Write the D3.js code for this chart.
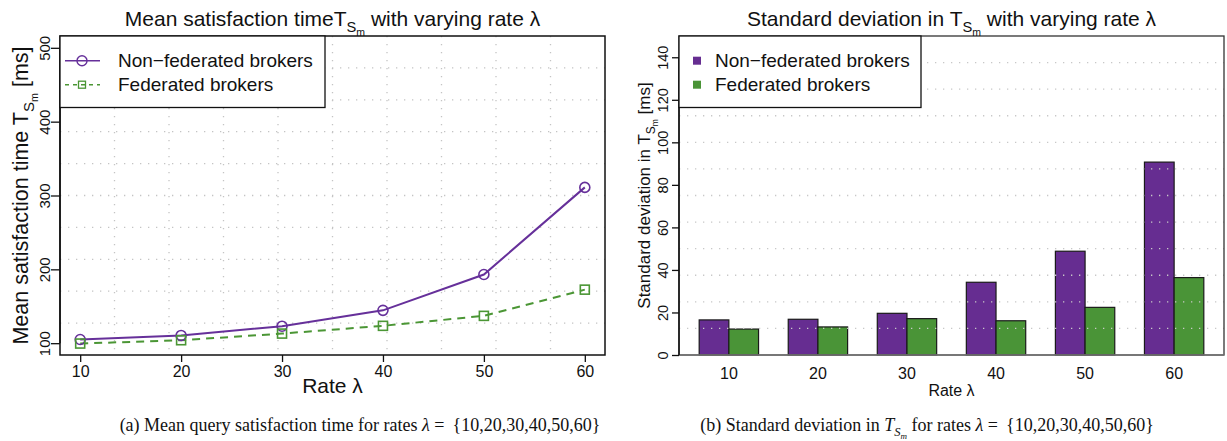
<!DOCTYPE html>
<html><head><meta charset="utf-8">
<script src="https://cdn.jsdelivr.net/npm/d3@7"></script>
<style>
html,body{margin:0;padding:0;background:#fff;}
svg{display:block;}
text{font-family:"Liberation Sans",Arial,Helvetica,sans-serif;fill:#111;}
.cap{font-family:"Liberation Serif","Times New Roman",serif;}
</style></head>
<body>
<svg id="c" width="1227" height="441"></svg>
<script>
// ---------- data ----------
const rates = [10, 20, 30, 40, 50, 60];
const seriesNames = ["Non\u2212federated brokers", "Federated brokers"];
const meanNonFed = [105, 110.5, 123, 144.5, 193, 311];
const meanFed = [99.5, 104, 113, 123.5, 137, 172.5];
const sdNonFed = [16.5, 16.8, 19.6, 34.2, 48.8, 90.7];
const sdFed = [12.2, 13.2, 17.1, 16.1, 22.4, 36.4];
const leftYTicks = [100, 200, 300, 400, 500];
const rightYTicks = [0, 20, 40, 60, 80, 100, 120, 140];
const colors = ["#66309a", "#4b9635"];
const barColors = ["#662d91", "#4a9437"];

const svg = d3.select("#c");
svg.append("rect").attr("width",1227).attr("height",441).attr("fill","#fff");

// helper for T_{S_m}
function tsm(sel, size, italic) {
  const t = sel.append("tspan").text("T");
  if (italic) t.attr("font-style","italic");
  const s = sel.append("tspan").text("S").attr("font-size", size*0.7).attr("dy", size*0.3);
  if (italic) s.attr("font-style","italic");
  const m = sel.append("tspan").text("m").attr("font-size", size*0.5).attr("dy", size*0.16);
  if (italic) m.attr("font-style","italic");
  return size*0.46; // total shift to undo
}

// ================= LEFT CHART =================
const L = {x0:60, x1:605, y0:36, y1:355};
const xL = d3.scaleLinear().domain([8, 62]).range([L.x0, L.x1]);
const yL = d3.scaleLinear().domain([84, 516]).range([L.y1, L.y0]);
const gL = svg.append("g");

// grid (10x10 cells)
const gxL = d3.range(1,10).map(k => 8 + 5.4*k);
const gyL = d3.range(1,10).map(k => 84 + 43.2*k);
gL.selectAll(".gx").data(gxL).join("line")
  .attr("x1", d=>xL(d)).attr("x2", d=>xL(d)).attr("y1", L.y0).attr("y2", L.y1)
  .attr("stroke","#c4c4c4").attr("stroke-width",1.3).attr("stroke-dasharray","1.3,6.7");
gL.selectAll(".gy").data(gyL).join("line")
  .attr("y1", d=>yL(d)).attr("y2", d=>yL(d)).attr("x1", L.x0).attr("x2", L.x1)
  .attr("stroke","#c4c4c4").attr("stroke-width",1.3).attr("stroke-dasharray","1.3,6.7");

// lines
const lineL = d3.line().x((d,i)=>xL(rates[i])).y(d=>yL(d));
gL.append("path").datum(meanNonFed).attr("d", lineL).attr("fill","none")
  .attr("stroke", colors[0]).attr("stroke-width",2);
gL.append("path").datum(meanFed).attr("d", lineL).attr("fill","none")
  .attr("stroke", colors[1]).attr("stroke-width",2).attr("stroke-dasharray","8,6");
gL.selectAll(".pc").data(meanNonFed).join("circle")
  .attr("cx",(d,i)=>xL(rates[i])).attr("cy", d=>yL(d)).attr("r",5)
  .attr("fill","none").attr("stroke",colors[0]).attr("stroke-width",1.6);
gL.selectAll(".ps").data(meanFed).join("rect")
  .attr("x",(d,i)=>xL(rates[i])-4.5).attr("y", d=>yL(d)-4.5).attr("width",9).attr("height",9)
  .attr("fill","none").attr("stroke",colors[1]).attr("stroke-width",1.6);

// box
gL.append("rect").attr("x",L.x0).attr("y",L.y0).attr("width",L.x1-L.x0).attr("height",L.y1-L.y0)
  .attr("fill","none").attr("stroke","#111").attr("stroke-width",1.5);

// axes
const axL = gL.append("g").attr("transform",`translate(${L.x0},0)`)
  .call(d3.axisLeft(yL).tickValues(leftYTicks).tickSize(9).tickPadding(0));
axL.select(".domain").attr("d", `M0,${yL(100)}V${yL(500)}`).attr("stroke","#111").attr("stroke-width",1.5);
axL.selectAll(".tick line").attr("stroke","#111").attr("stroke-width",1.3);
axL.selectAll(".tick text").attr("x",0).attr("dy",0).attr("y",0)
  .attr("transform","translate(-10.5,0) rotate(-90)").attr("text-anchor","middle")
  .attr("font-size",15).attr("font-family","Liberation Sans, Arial, sans-serif").attr("fill","#111");

const axLb = gL.append("g").attr("transform",`translate(0,${L.y1})`)
  .call(d3.axisBottom(xL).tickValues(rates).tickSize(7).tickPadding(4));
axLb.select(".domain").remove();
axLb.selectAll(".tick line").attr("stroke","#111").attr("stroke-width",1.3);
axLb.selectAll(".tick text").attr("font-size",16).attr("font-family","Liberation Sans, Arial, sans-serif").attr("fill","#111");

// legend
gL.append("rect").attr("x",L.x0).attr("y",L.y0).attr("width",265).attr("height",71.5)
  .attr("fill","#fff").attr("stroke","#111").attr("stroke-width",1.3);
const legY = [60.7, 84.7];
gL.append("line").attr("x1",65).attr("x2",100).attr("y1",legY[0]).attr("y2",legY[0]).attr("stroke",colors[0]).attr("stroke-width",1.5);
gL.append("circle").attr("cx",82).attr("cy",legY[0]).attr("r",5).attr("fill","none").attr("stroke",colors[0]).attr("stroke-width",1.4);
gL.append("line").attr("x1",65).attr("x2",100).attr("y1",legY[1]).attr("y2",legY[1]).attr("stroke",colors[1]).attr("stroke-width",1.5).attr("stroke-dasharray","4,4");
gL.append("rect").attr("x",78.5).attr("y",legY[1]-3.5).attr("width",7).attr("height",7).attr("fill","none").attr("stroke",colors[1]).attr("stroke-width",1.3);
seriesNames.forEach((n,i)=>{
  gL.append("text").attr("x",118).attr("y",legY[i]).attr("dy","0.35em").attr("font-size",19).text(n);
});

// title
{
  const t = gL.append("text").attr("x",(L.x0+L.x1)/2).attr("y",26).attr("text-anchor","middle").attr("font-size",21);
  t.append("tspan").text("Mean satisfaction time");
  const sh = tsm(t, 21, false);
  t.append("tspan").attr("dy",-sh).text(" with varying rate \u03bb");
}
// y label
{
  const t = gL.append("text").attr("transform",`translate(28,${(L.y0+L.y1)/2}) rotate(-90)`).attr("text-anchor","middle").attr("font-size",21.5);
  t.append("tspan").text("Mean satisfaction time ");
  const sh = tsm(t, 21.5, false);
  t.append("tspan").attr("dy",-sh).text(" [ms]");
}
// x label
gL.append("text").attr("x",(L.x0+L.x1)/2).attr("y",393).attr("text-anchor","middle").attr("font-size",21).text("Rate \u03bb");
// caption
{
  const t = gL.append("text").attr("class","cap").attr("x",360).attr("y",431).attr("text-anchor","middle").attr("font-size",18);
  t.append("tspan").text("(a) Mean query satisfaction time for rates ");
  t.append("tspan").attr("font-style","italic").text("\u03bb");
  t.append("tspan").text(" = \u2009{10,20,30,40,50,60}");
}

// ================= RIGHT CHART =================
const R = {x0:679, x1:1224, y0:36, y1:355};
const yR = d3.scaleLinear().domain([0, 150]).range([R.y1, R.y0]);
const xG = d3.scaleBand().domain(rates).range([R.x0, R.x1]).paddingInner(1/3).paddingOuter(0.2267);
const xS = d3.scaleBand().domain([0,1]).range([0, xG.bandwidth()]);
const gR = svg.append("g");

const barData = rates.map((r,i)=>[{r, s:0, v:sdNonFed[i]}, {r, s:1, v:sdFed[i]}]).flat();
gR.selectAll(".bar").data(barData).join("rect")
  .attr("x", d=>xG(d.r)+xS(d.s)).attr("width", xS.bandwidth())
  .attr("y", d=>yR(d.v)).attr("height", d=>yR(0)-yR(d.v))
  .attr("fill", d=>barColors[d.s]).attr("stroke","#1a1a1a").attr("stroke-width",1.2);

// grid (12 horizontal cells)
const gyR = d3.range(1,12).map(k => 12.5*k);
gR.selectAll(".gyr").data(gyR).join("line")
  .attr("y1", d=>yR(d)).attr("y2", d=>yR(d)).attr("x1", R.x0).attr("x2", R.x1)
  .attr("stroke","#c8c8c8").attr("stroke-width",1.3).attr("stroke-dasharray","1.3,6.7");

// box
gR.append("rect").attr("x",R.x0).attr("y",R.y0).attr("width",R.x1-R.x0).attr("height",R.y1-R.y0)
  .attr("fill","none").attr("stroke","#333").attr("stroke-width",1.3);
gR.append("line").attr("x1",R.x0).attr("x2",R.x1).attr("y1",R.y1).attr("y2",R.y1).attr("stroke","#777").attr("stroke-width",1.5);

const axR = gR.append("g").attr("transform",`translate(${R.x0},0)`)
  .call(d3.axisLeft(yR).tickValues(rightYTicks).tickSize(7).tickPadding(0));
axR.select(".domain").attr("d", `M0,${yR(0)}V${yR(140)}`).attr("stroke","#111").attr("stroke-width",1.5);
axR.selectAll(".tick line").attr("stroke","#111").attr("stroke-width",1.3);
axR.selectAll(".tick text").attr("x",0).attr("dy",0).attr("y",0)
  .attr("transform","translate(-11,0) rotate(-90)").attr("text-anchor","middle")
  .attr("font-size",14.5).attr("font-family","Liberation Sans, Arial, sans-serif").attr("fill","#111");

const axRb = gR.append("g").attr("transform",`translate(0,${R.y1})`)
  .call(d3.axisBottom(xG).tickSize(0).tickPadding(13));
axRb.select(".domain").remove();
axRb.selectAll(".tick text").attr("font-size",16).attr("font-family","Liberation Sans, Arial, sans-serif").attr("fill","#111");

// legend
gR.append("rect").attr("x",R.x0).attr("y",R.y0).attr("width",242).attr("height",71.5)
  .attr("fill","#fff").attr("stroke","#111").attr("stroke-width",1.3);
seriesNames.forEach((n,i)=>{
  gR.append("rect").attr("x",693).attr("y",legY[i]-4).attr("width",8).attr("height",8).attr("fill",barColors[i]);
  gR.append("text").attr("x",715).attr("y",legY[i]).attr("dy","0.35em").attr("font-size",19).text(n);
});

// title
{
  const t = gR.append("text").attr("x",(R.x0+R.x1)/2).attr("y",26).attr("text-anchor","middle").attr("font-size",21);
  t.append("tspan").text("Standard deviation in ");
  const sh = tsm(t, 21, false);
  t.append("tspan").attr("dy",-sh).text(" with varying rate \u03bb");
}
// y label
{
  const t = gR.append("text").attr("transform",`translate(650,${(R.y0+R.y1)/2}) rotate(-90)`).attr("text-anchor","middle").attr("font-size",17);
  t.append("tspan").text("Standard deviation in ");
  const sh = tsm(t, 17, false);
  t.append("tspan").attr("dy",-sh).text(" [ms]");
}
gR.append("text").attr("x",(R.x0+R.x1)/2).attr("y",396).attr("text-anchor","middle").attr("font-size",16).text("Rate \u03bb");
{
  const t = gR.append("text").attr("class","cap").attr("x",927).attr("y",431).attr("text-anchor","middle").attr("font-size",18);
  t.append("tspan").text("(b) Standard deviation in ");
  const sh = tsm(t, 18, true);
  t.append("tspan").attr("dy",-sh).text(" for rates ");
  t.append("tspan").attr("font-style","italic").text("\u03bb");
  t.append("tspan").text(" = \u2009{10,20,30,40,50,60}");
}
</script>
</body></html>
